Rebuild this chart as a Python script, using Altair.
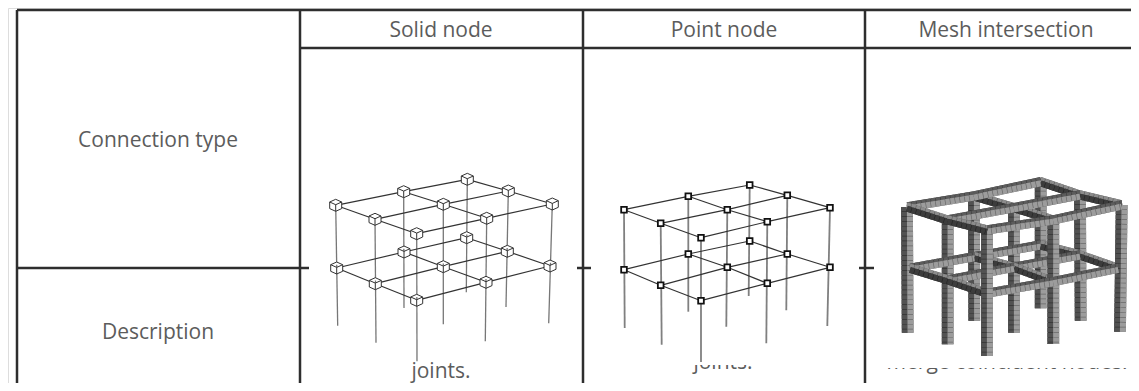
import altair as alt
import pandas as pd

FONT = "Open Sans"
TEXT_COLOR = "#5c5c5c"
LINE_COLOR = "#2e2e2e"

# table rules: x1, y1, x2, y2
table_rules = [
    (17, 10, 1139, 10), (300, 48, 1139, 48), (17, 268, 300, 268),
    (300, 268, 309, 268), (577, 268, 591, 268), (859, 268, 874, 268),
    (17, 10, 17, 391), (300, 10, 300, 391), (583, 10, 583, 391), (865, 10, 865, 391),
]

labels = ["Solid node", "Point node", "Mesh intersection", "Connection type", "Description", "joints.", "joints.", "merge coincident nodes."]
label_x = [441, 724, 1006, 158, 158, 441, 723, 1007]
label_y = [37, 37, 37, 147, 339, 378, 369, 369]

# masks hiding the top part of the cut-off sentences
mask_x = [680, 880]
mask_x2 = [770, 1132]
mask_y = [340, 340]
mask_y2 = [365, 368]

node_names = list("ABCDEFGHI")
# frame nodes: top storey, lower storey, column foot
solid_top = [(335.7, 205.3), (403.7, 191.7), (467.3, 179.3), (508.3, 191), (552.3, 204), (443.3, 204.3), (375, 219.3), (486.7, 218.3), (416.7, 233.7)]
solid_low = [(336.7, 268), (404, 252), (466.7, 237.7), (507.3, 251.3), (550, 266), (443.3, 266.7), (375.3, 283.7), (486, 282.3), (416.7, 300.3)]
solid_foot = [(337.7, 325.7), (404, 308), (466.3, 292.3), (506, 307), (548.7, 323.3), (443.3, 324.3), (376, 342.7), (485.3, 341.3), (417, 361.3)]

point_top = [(624, 209.7), (688.3, 196.3), (749.7, 185), (787.3, 195.3), (830, 207.7), (727.3, 209.7), (660.7, 223.3), (767.3, 221.7), (701, 237.7)]
point_low = [(624, 269.7), (688.3, 254), (749.7, 241), (787.3, 254), (830, 267.3), (727.3, 267.3), (660.7, 285.3), (767.3, 283.3), (701, 300.7)]
point_foot = [(624.7, 328), (688.3, 311.7), (748.7, 296), (786.3, 310.3), (827.3, 326), (726.3, 326.7), (661.7, 344.7), (766.3, 343.3), (701, 362)]

mesh_top = [(907, 207), (974, 196), (1040.7, 181.7), (1080, 195), (1121.7, 205), (1014, 207.7), (947.7, 220), (1053.3, 220), (987, 230)]
mesh_low = [(910, 268.3), (974.3, 256.7), (1040.7, 245), (1080, 255), (1118.3, 268.3), (1014, 267.3), (948.3, 280), (1053.3, 281.7), (987, 293.3)]
mesh_foot = [(907.7, 332.7), (974.3, 320.7), (1040.7, 308.3), (1080.7, 320.7), (1120, 331.7), (1014, 332.7), (947.7, 344.3), (1053.3, 344), (987, 356)]

# beam runs across the frame
up_runs = ["AB", "BC", "GF", "FD", "IH", "HE"]
down_runs = ["AG", "GI", "BF", "FH", "CD", "DE"]

CUBE = "M-1,-0.55 L0,-1 L1,-0.55 L1,0.55 L0,1 L-1,0.55 Z M-1,-0.55 L0,-0.1 L1,-0.55 M0,-0.1 L0,1"


def lookup(nodes):
    return dict(zip(node_names, nodes))


def seg(p, q, color, width, dash=(), dx=0, dy=0):
    return dict(x=p[0] + dx, y=p[1] + dy, x2=q[0] + dx, y2=q[1] + dy, c=color, w=width, d=list(dash))


def wire_frame(top, low, foot, col_color, col_w, beam_color, beam_w):
    t, l, f = lookup(top), lookup(low), lookup(foot)
    rows = [seg(t[n], f[n], col_color, col_w) for n in node_names]
    for run in up_runs + down_runs:
        rows.append(seg(t[run[0]], t[run[1]], beam_color, beam_w))
        rows.append(seg(l[run[0]], l[run[1]], beam_color, beam_w))
    return rows


def mesh_column(t, f):
    dash = (4.2, 0.7)
    return [
        seg(t, f, "#333333", 6, dx=-2.9),
        seg(t, f, "#6a6a6a", 6, dx=2.9),
        seg(t, f, "#525252", 6, dash, dx=-2.9),
        seg(t, f, "#9c9c9c", 6, dash, dx=2.9),
    ]


def mesh_beam(p, q, kind):
    dash = (4.2, 0.7)
    if kind == "up":
        top_c, top_g, face_c, face_g = "#5c5c5c", "#404040", "#9c9c9c", "#6a6a6a"
    else:
        top_c, top_g, face_c, face_g = "#8c8c8c", "#606060", "#3c3c3c", "#262626"
    return [
        seg(p, q, top_g, 3.4, dy=-3),
        seg(p, q, face_g, 6, dy=1.6),
        seg(p, q, top_c, 3.4, dash, dy=-3),
        seg(p, q, face_c, 6, dash, dy=1.6),
    ]


def mesh_rows():
    t, l, f = lookup(mesh_top), lookup(mesh_low), lookup(mesh_foot)
    rows = []
    for n in "CBDF":
        rows += mesh_column(t[n], f[n])
    for run in ["BC", "CD", "DE", "BF", "FD", "FH"]:
        rows += mesh_beam(l[run[0]], l[run[1]], "up" if run in up_runs else "down")
    for n in "AGHE":
        rows += mesh_column(t[n], f[n])
    for run in ["AB", "GF", "AG", "GI", "IH", "HE"]:
        rows += mesh_beam(l[run[0]], l[run[1]], "up" if run in up_runs else "down")
    rows += mesh_column(t["I"], f["I"])
    for run in ("CD", "DE", "BF", "FH"):
        rows += mesh_beam(t[run[0]], t[run[1]], "down")
    for run in up_runs:
        rows += mesh_beam(t[run[0]], t[run[1]], "up")
    for run in ("AG", "GI"):
        rows += mesh_beam(t[run[0]], t[run[1]], "down")
    return rows


X = alt.X("x:Q", axis=None, scale=alt.Scale(domain=[8, 1131], nice=False, zero=False))
Y = alt.Y("y:Q", axis=None, scale=alt.Scale(domain=[383, 8], nice=False, zero=False))


def rule_layer(rows):
    return alt.Chart(pd.DataFrame(rows)).mark_rule(strokeCap="butt", clip=True).encode(
        x=X, y=Y, x2="x2:Q", y2="y2:Q",
        color=alt.Color("c:N", scale=None),
        strokeWidth=alt.StrokeWidth("w:Q", scale=None),
        strokeDash=alt.StrokeDash("d", scale=None),
    )


def node_layer(nodes, shape, size, stroke, sw):
    return alt.Chart(pd.DataFrame(nodes, columns=["x", "y"])).mark_point(
        shape=shape, size=size, filled=False, fill="white", fillOpacity=1,
        stroke=stroke, strokeWidth=sw, opacity=1,
    ).encode(x=X, y=Y)


text = alt.Chart(pd.DataFrame({"x": label_x, "y": label_y, "t": labels})).mark_text(
    font=FONT, fontSize=21, color=TEXT_COLOR, align="center", baseline="alphabetic"
).encode(x=X, y=Y, text="t:N")

masks = alt.Chart(pd.DataFrame({"x": mask_x, "x2": mask_x2, "y": mask_y, "y2": mask_y2})).mark_rect(
    color="white"
).encode(x=X, y=Y, x2="x2:Q", y2="y2:Q")

table = rule_layer([seg((a, b), (c, d), LINE_COLOR, 2.5) for a, b, c, d in table_rules])

solid = rule_layer(wire_frame(solid_top, solid_low, solid_foot, "#777777", 1.3, "#333333", 1.2))
point = rule_layer(wire_frame(point_top, point_low, point_foot, "#808080", 1.8, "#333333", 1.2))
mesh = rule_layer(mesh_rows())

chart = alt.layer(
    text, masks, table, solid, point, mesh,
    node_layer(solid_top + solid_low, CUBE, 144, "#333333", 1),
    node_layer(point_top + point_low, "square", 32, "#111111", 1.8),
).properties(
    width=1123, height=375, padding=0,
    autosize=alt.AutoSizeParams(type="none"),
).configure_view(stroke=None).configure(background="white")

chart.save("out.html", embed_options={"renderer": "svg", "actions": False})
